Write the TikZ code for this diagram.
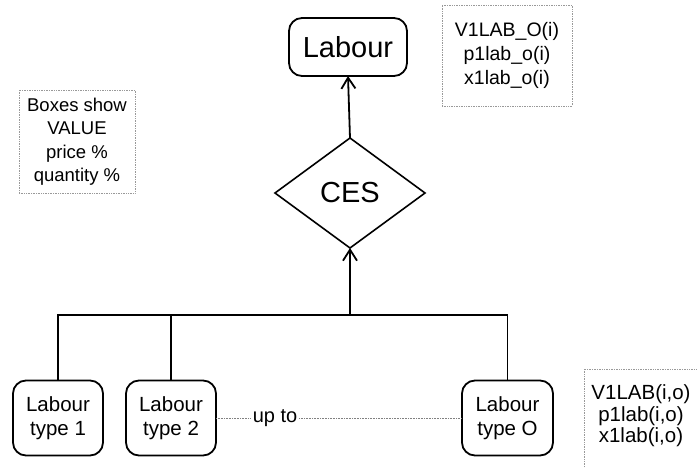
\documentclass[tikz,border=0pt]{standalone}
\usepackage{fontspec}
\setmainfont{Liberation Sans}
\usetikzlibrary{shapes.geometric,arrows.meta}

\begin{document}
\begin{tikzpicture}[x=1pt,y=-1pt,
  every node/.style={inner sep=0pt, outer sep=0pt},
  solidbox/.style={draw, line width=1.8pt, rounded corners=13pt, align=center},
  bigtext/.style={font=\fontsize{29}{34}\selectfont},
  typebox/.style={solidbox, minimum width=90pt, minimum height=75pt,
                  font=\fontsize{20.5}{23.5}\selectfont},
  notebox/.style={draw=gray!80, densely dotted, line width=0.7pt, align=center},
  wire/.style={line width=1.8pt},
  feed/.style={wire, -{Straight Barb[length=11pt,width=14pt,line width=1.8pt]}},
  hint/.style={draw=gray, densely dotted, line width=0.6pt}
]
\useasboundingbox (0,0) rectangle (697,468);

% aggregate labour and the CES nest
\node[solidbox, bigtext, minimum width=118pt, minimum height=58pt] (lab) at (348,47) {Labour};
\node[draw, diamond, line width=1.6pt, minimum width=150pt, minimum height=110pt,
      bigtext] (ces) at (350,193) {CES};

% labour types
\node[typebox] (t1) at (58,418) {Labour\\type 1};
\node[typebox] (t2) at (171,418) {Labour\\type 2};
\node[typebox, minimum width=91pt] (tO) at (507.5,418) {Labour\\type O};
\node[font=\fontsize{20}{24}\selectfont, inner xsep=2pt] (upto) at (275,418) {up to};

% connectors
\coordinate (join) at (350,315);
\draw[wire] (t1.north) |- (join);
\draw[wire] (t2.north) |- (join);
\draw[wire] (tO.north) |- (join);
\draw[feed] (join) -- (ces.south);
\draw[feed] (ces.north) -- (lab.south);
\draw[hint] (t2.east) -- (upto.west);
\draw[hint] (upto.east) -- (tO.west);

% notes
\node[notebox, minimum width=116pt, minimum height=103pt,
      font=\fontsize{18.5}{23.5}\selectfont] (key) at (77,141.5)
      {Boxes show\\VALUE\\price \%\\quantity \%};
\node[notebox, minimum width=130pt, minimum height=101pt,
      font=\fontsize{19.5}{24}\selectfont] (topnote) at (507,55.5)
      {V1LAB\_O(i)\\p1lab\_o(i)\\x1lab\_o(i)};
\draw[notebox] (584,369) rectangle (705,475);
\node[align=center, font=\fontsize{20.5}{21.5}\selectfont] (botnote) at (641,416)
      {V1LAB(i,o)\\p1lab(i,o)\\x1lab(i,o)};
\end{tikzpicture}
\end{document}
